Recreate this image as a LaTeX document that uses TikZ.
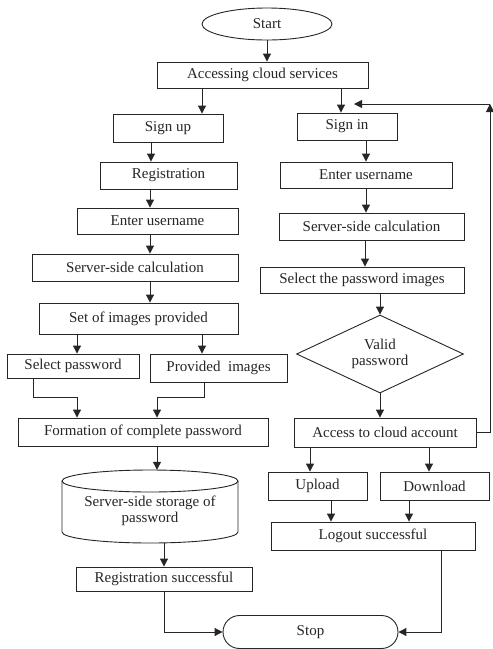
\documentclass[tikz,border=0pt]{standalone}
\usepackage{fontspec}
\setmainfont{Liberation Serif}
\usetikzlibrary{shapes.geometric,shapes.misc,arrows.meta}
\begin{document}
\begin{tikzpicture}[x=1pt,y=-1pt,
  font=\fontsize{15}{16}\selectfont,
  box/.style={draw=black!85, line width=0.9pt, inner sep=0pt, text=black!85},
  arr/.style={draw=black!85, line width=1pt, -{Triangle[length=8pt,width=8pt]}},
  ln/.style={draw=black!85, line width=1pt}]
\useasboundingbox (0,0) rectangle (493,649);
\fill[white] (0,0) rectangle (493,649);
% ---- top
\node[box, ellipse, minimum width=130pt, minimum height=32pt] (start) at (267,24) {Start};
\node[box, minimum width=211pt, minimum height=26pt] (access) at (262.5,75) {Accessing cloud services};
% ---- left column
\node[box, minimum width=110pt, minimum height=28pt] (signup) at (168,128) {Sign up};
\node[box, minimum width=137pt, minimum height=27pt] (reg) at (168.5,175.5) {Registration};
\node[box, minimum width=161pt, minimum height=26pt] (ent1) at (157.5,221) {Enter username};
\node[box, minimum width=206pt, minimum height=27pt] (calc1) at (135,267.5) {Server-side calculation};
\node[box, minimum width=199pt, minimum height=31pt] (imgs) at (138.5,318.5) {Set of images provided};
\node[box, minimum width=132pt, minimum height=24pt] (selpw) at (73,366) {Select password};
\node[box, minimum width=137pt, minimum height=28pt] (prov) at (218.5,368) {Provided\ \ images};
\node[box, minimum width=250pt, minimum height=28pt] (form) at (143,432) {Formation of complete password};
% cylinder
\draw[ln, line width=0.9pt] (62,481) -- (62,532) arc[start angle=180, end angle=360, x radius=88pt, y radius=11pt] -- (238,481);
\draw[ln, line width=0.9pt] (150,481) ellipse[x radius=88pt, y radius=11pt];
\node[inner sep=0pt, minimum width=176pt, minimum height=73pt] (stor) at (150,506.5) {};
\node[align=center, inner sep=0pt, text=black!85] (storlbl) at (150,511) {Server-side storage of\\password};
\node[box, minimum width=176pt, minimum height=24pt] (regok) at (164,579) {Registration successful};
\node[box, rounded rectangle, minimum width=175pt, minimum height=33pt] (stop) at (310.5,632) {Stop};
% ---- right column
\node[box, minimum width=100pt, minimum height=27pt] (signin) at (347,126.5) {Sign in};
\node[box, minimum width=172pt, minimum height=26pt] (ent2) at (366,175) {Enter username};
\node[box, minimum width=185pt, minimum height=27pt] (calc2) at (371.5,226.5) {Server-side calculation};
\node[box, minimum width=204pt, minimum height=26pt] (selimg) at (362,280) {Select the password images};
\node[box, diamond, aspect=2.14, minimum width=167pt, minimum height=78pt, align=center] (valid) at (380,354) {Valid\\password};
\node[box, minimum width=182pt, minimum height=29pt] (acc) at (385,432.5) {Access to cloud account};
\node[box, minimum width=99pt, minimum height=28pt] (up) at (317.5,486) {Upload};
\node[box, minimum width=109pt, minimum height=28pt] (down) at (434.5,486) {Download};
\node[box, minimum width=204pt, minimum height=28pt] (logout) at (373,536) {Logout successful};
\coordinate (fbc) at (490,104);
\coordinate (fbend) at (354,104);
\coordinate (j1) at (77,397);
\coordinate (j2) at (157,397);
% ---- connectors
\draw[arr] (start.south) -- (start.south |- access.north);
\draw[arr] (202,0 |- access.south) -- (202,0 |- signup.north);
\draw[arr] (341,0 |- access.south) -- (341,0 |- signin.north);
\draw[arr] (151,0 |- signup.south) -- (151,0 |- reg.north);
\draw[arr] (150,0 |- reg.south) -- (150,0 |- ent1.north);
\draw[arr] (150,0 |- ent1.south) -- (150,0 |- calc1.north);
\draw[arr] (150,0 |- calc1.south) -- (150,0 |- imgs.north);
\draw[arr] (77,0 |- imgs.south) -- (77,0 |- selpw.north);
\draw[arr] (202,0 |- imgs.south) -- (202,0 |- prov.north);
\draw[ln] (33,0 |- selpw.south) |- (j1);
\draw[arr] (j1) -- (j1 |- form.north);
\draw[ln] (204,0 |- prov.south) |- (j2);
\draw[arr] (j2) -- (j2 |- form.north);
\draw[arr] (157,0 |- form.south) -- (157,0 |- stor.north);
\draw[arr] (164,0 |- stor.south) -- (164,0 |- regok.north);
\draw[arr] (regok.south) |- (stop.west);
\draw[arr] (366,0 |- signin.south) -- (366,0 |- ent2.north);
\draw[arr] (366,0 |- ent2.south) -- (366,0 |- calc2.north);
\draw[arr] (365,0 |- calc2.south) -- (365,0 |- selimg.north);
\draw[arr] (valid.north |- selimg.south) -- (valid.north);
\draw[arr] (valid.south) -- (valid.south |- acc.north);
\draw[arr] (310,0 |- acc.south) -- (310,0 |- up.north);
\draw[arr] (429,0 |- acc.south) -- (429,0 |- down.north);
\draw[arr] (331,0 |- up.south) -- (331,0 |- logout.north);
\draw[arr] (409,0 |- down.south) -- (409,0 |- logout.north);
\draw[arr] (441,0 |- logout.south) |- (stop.east);
\draw[arr] (acc.east) -| (fbc);
\draw[arr] (fbc) -- (fbend);
\end{tikzpicture}
\end{document}
